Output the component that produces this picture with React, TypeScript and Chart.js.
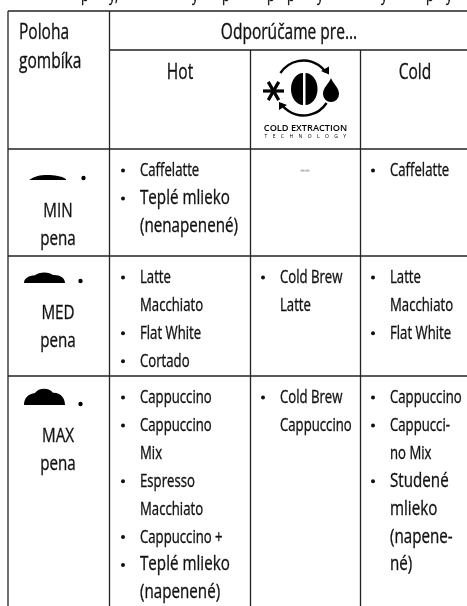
import React, { useEffect, useRef } from "react";
import { Chart, registerables } from "chart.js";

Chart.register(...registerables);

// ---- content ----
const firstColumnTitle = ["Poloha", "gombíka"];
const spanTitle = "Odporúčame pre...";
const hotTitle = "Hot";
const coldTitle = "Cold";
const logoLines = ["COLD EXTRACTION", "TECHNOLOGY"];
const emptyCell = "--";
const minLabel = ["MIN", "pena"];
const medLabel = ["MED", "pena"];
const maxLabel = ["MAX", "pena"];
const hotMin = [["Caffelatte"], ["Teplé mlieko", "(nenapenené)"]];
const hotMed = [["Latte", "Macchiato"], ["Flat White"], ["Cortado"]];
const hotMax = [["Cappuccino"], ["Cappuccino", "Mix"], ["Espresso", "Macchiato"], ["Cappuccino +"], ["Teplé mlieko", "(napenené)"]];
const extMed = [["Cold Brew", "Latte"]];
const extMax = [["Cold Brew", "Cappuccino"]];
const coldMin = [["Caffelatte"]];
const coldMed = [["Latte", "Macchiato"], ["Flat White"]];
const coldMax = [["Cappuccino"], ["Cappucci-", "no Mix"], ["Studené", "mlieko", "(napene-", "né)"]];
const largeItems = ["Teplé mlieko", "Studené"];
const clippedAbove = ["p", "y", ",", "y", "p", "p", "p", "y", "y", "p", "y"];

// ---- layout (in scale units, which equal page pixels) ----
const clippedX = [81, 109, 115, 192, 222, 267, 287, 317, 381, 426, 446];
const verticalX = [8, 109.5, 250.5, 360.5];
const horizontalY = [11, 50, 149, 256, 376];
const rowFirstBaseline = [176, 283, 403];
const linePitch = 27.9;
const colBulletX = [123, 263, 373];
const colTextX = [140, 280, 390];
const W = 467;
const H = 606;
const INK = "#111";

type Cell = string[][];
const cells: { col: number; row: number; items: Cell }[] = [
  { col: 0, row: 0, items: hotMin }, { col: 0, row: 1, items: hotMed }, { col: 0, row: 2, items: hotMax },
  { col: 1, row: 1, items: extMed }, { col: 1, row: 2, items: extMax },
  { col: 2, row: 0, items: coldMin }, { col: 2, row: 1, items: coldMed }, { col: 2, row: 2, items: coldMax },
];

const bulletPoints: { x: number; y: number }[] = [];
const textRuns: { text: string; x: number; y: number; size: number }[] = [];
cells.forEach(({ col, row, items }) => {
  let n = 0;
  items.forEach((lines) => {
    const large = largeItems.includes(lines[0]);
    lines.forEach((text, i) => {
      const y = rowFirstBaseline[row] + n * linePitch;
      if (i === 0) bulletPoints.push({ x: colBulletX[col], y: y - 5.5 });
      textRuns.push({ text, x: colTextX[col], y, size: large ? 20.5 : 17.8 });
      n++;
    });
  });
});

const gridLines = [
  [[verticalX[0], horizontalY[0]], [verticalX[0], H]],
  [[verticalX[1], horizontalY[0]], [verticalX[1], H]],
  [[verticalX[2], horizontalY[1]], [verticalX[2], H]],
  [[verticalX[3], horizontalY[1]], [verticalX[3], H]],
  [[verticalX[0], horizontalY[0]], [W, horizontalY[0]]],
  [[verticalX[1], horizontalY[1]], [W, horizontalY[1]]],
  [[verticalX[0], horizontalY[2]], [W, horizontalY[2]]],
  [[verticalX[0], horizontalY[3]], [W, horizontalY[3]]],
  [[verticalX[0], horizontalY[4]], [W, horizontalY[4]]],
];
const foamDots = [{ x: 83.5, y: 178 }, { x: 80.5, y: 281 }, { x: 80.5, y: 404 }];

const FONT = '"Open Sans"';
const SQUEEZE = 0.74;

const tablePlugin = {
  id: "tableText",
  afterDraw(chart: any) {
    const { ctx } = chart;
    const px = (v: number) => chart.scales.x.getPixelForValue(v);
    const py = (v: number) => chart.scales.y.getPixelForValue(v);
    const text = (s: string, x: number, y: number, size: number, align: CanvasTextAlign = "left", color = INK) => {
      ctx.save();
      ctx.translate(px(x), py(y));
      ctx.scale(SQUEEZE, 1);
      ctx.font = `${size}px ${FONT}`;
      ctx.fillStyle = color;
      ctx.strokeStyle = color;
      ctx.lineWidth = 0.35;
      ctx.textAlign = align;
      ctx.textBaseline = "alphabetic";
      ctx.fillText(s, 0, 0);
      ctx.strokeText(s, 0, 0);
      ctx.restore();
    };

    // the line of text cut off by the top edge
    clippedAbove.forEach((c, i) => text(c, clippedX[i], 0.5, 17));

    text(firstColumnTitle[0], 19, 39, 21);
    text(firstColumnTitle[1], 19, 68, 21);
    text(spanTitle, 289, 39, 21, "center");
    text(hotTitle, 180, 79, 21, "center");
    text(coldTitle, 415, 79, 21, "center");
    text(emptyCell, 305, 175.5, 20, "center", "#b5b5b5");

    [minLabel, medLabel, maxLabel].forEach((lab, i) => {
      const base = [217, 319, 442][i];
      text(lab[0], 58, base, 20.5, "center");
      text(lab[1], 58, base + 28, 20.5, "center");
    });

    textRuns.forEach((r) => text(r.text, r.x, r.y, r.size));

    // foam icons
    ctx.fillStyle = "#000";
    ctx.beginPath();
    ctx.moveTo(29, 180);
    ctx.bezierCurveTo(35, 176, 40, 175, 47, 175);
    ctx.bezierCurveTo(55, 175, 61, 176, 66, 179);
    ctx.lineTo(66, 180);
    ctx.closePath();
    ctx.fill();

    const foam = (bottom: number, h: number) => {
      const t = bottom - h;
      ctx.beginPath();
      ctx.moveTo(24, bottom);
      ctx.bezierCurveTo(24, bottom - h * 0.45, 29, t + h * 0.35, 35, t + h * 0.3);
      ctx.bezierCurveTo(38, t, 49, t - 1, 53, t + h * 0.28);
      ctx.bezierCurveTo(60, t + h * 0.25, 65, bottom - h * 0.45, 65, bottom);
      ctx.closePath();
      ctx.fill();
    };
    foam(283, 11);
    foam(405, 17);

    // logo
    const cx = 303.5;
    const cy = 88;
    ctx.strokeStyle = "#000";
    ctx.lineWidth = 2.4;
    ctx.beginPath();
    ctx.arc(cx, cy, 27.5, (-147 * Math.PI) / 180, (-35 * Math.PI) / 180);
    ctx.stroke();
    ctx.beginPath();
    ctx.arc(cx, cy, 27.5, (33 * Math.PI) / 180, (145 * Math.PI) / 180);
    ctx.stroke();
    ctx.beginPath();
    ctx.moveTo(329, 74.5); ctx.lineTo(321, 71); ctx.lineTo(329, 66.5); ctx.closePath();
    ctx.moveTo(279, 102); ctx.lineTo(287, 105); ctx.lineTo(279, 110); ctx.closePath();
    ctx.fill();
    // asterisk
    ctx.lineWidth = 3.2;
    for (let i = 0; i < 3; i++) {
      const a = (i * Math.PI) / 3;
      ctx.beginPath();
      ctx.moveTo(273.5 - 10.5 * Math.cos(a), 91 - 10.5 * Math.sin(a));
      ctx.lineTo(273.5 + 10.5 * Math.cos(a), 91 + 10.5 * Math.sin(a));
      ctx.stroke();
    }
    // bean
    ctx.beginPath();
    ctx.ellipse(303, 89, 12, 16, 0, Math.PI / 2, (3 * Math.PI) / 2);
    ctx.closePath();
    ctx.fill();
    ctx.beginPath();
    ctx.ellipse(305.5, 89, 12, 16, 0, -Math.PI / 2, Math.PI / 2);
    ctx.closePath();
    ctx.fill();
    // drop
    ctx.beginPath();
    ctx.moveTo(331, 78);
    ctx.bezierCurveTo(333, 84, 339, 87, 339, 94);
    ctx.arc(331, 94, 8, 0, Math.PI);
    ctx.bezierCurveTo(323, 87, 329, 84, 331, 78);
    ctx.fill();

    // logo caption
    ctx.save();
    ctx.fillStyle = "#000";
    ctx.textAlign = "center";
    ctx.font = `600 9.2px ${FONT}`;
    ctx.fillText(logoLines[0], 305.5, 131);
    ctx.font = `5px ${FONT}`;
    (ctx as any).letterSpacing = "5.4px";
    ctx.fillText(logoLines[1], 308, 138);
    ctx.restore();
  },
};

export default function App() {
  const ref = useRef<HTMLCanvasElement>(null);
  useEffect(() => {
    const chart = new Chart(ref.current!, {
      type: "scatter",
      data: {
        datasets: [
          ...gridLines.map((line) => ({
            data: line.map(([x, y]) => ({ x, y })),
            showLine: true,
            borderColor: "#222",
            borderWidth: 1.3,
            pointRadius: 0,
            clip: false,
          })),
          { data: bulletPoints, showLine: false, pointRadius: 2, pointBorderWidth: 0, pointBackgroundColor: INK },
          { data: foamDots, showLine: false, pointRadius: 2.2, pointBorderWidth: 0, pointBackgroundColor: "#000" },
        ],
      },
      options: {
        responsive: false,
        animation: false,
        layout: { padding: 0, autoPadding: false },
        plugins: { legend: { display: false }, tooltip: { enabled: false }, title: { display: false } },
        scales: {
          x: { type: "linear", display: false, min: 0, max: W },
          y: { type: "linear", display: false, min: 0, max: H, reverse: true },
        },
      },
      plugins: [tablePlugin],
    } as any);
    return () => chart.destroy();
  }, []);
  return (
    <canvas
      ref={ref}
      width={W}
      height={H}
      style={{ position: "absolute", left: 0, top: 0, width: W, height: H, background: "#fff" }}
    />
  );
}
